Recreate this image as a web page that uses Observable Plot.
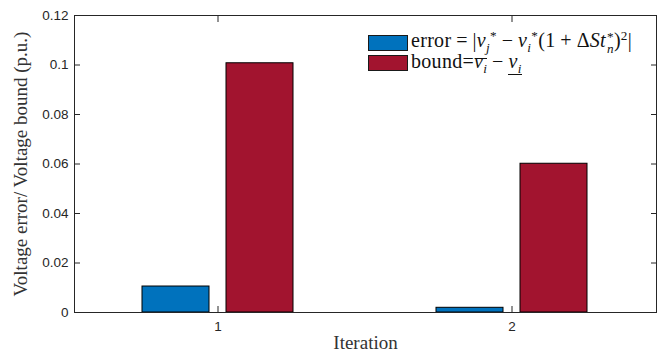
<!DOCTYPE html>
<html>
<head>
<meta charset="utf-8">
<script src="https://cdn.jsdelivr.net/npm/d3@7"></script>
<script src="https://cdn.jsdelivr.net/npm/@observablehq/plot@0.6"></script>
<style>
  body { margin: 0; background: #fff; }
  #wrap { position: relative; width: 670px; height: 356px; }
  #wrap svg { display: block; }
  .leg { position: absolute; left: 368px; top: 32.5px; font-family: "Liberation Serif", "Times New Roman", serif; font-size: 20px; letter-spacing: 0.3px; color: #111; }
  .row { display: flex; align-items: center; height: 20.5px; white-space: nowrap; }
  .sw { display: inline-block; flex: none; width: 38px; height: 14px; border: 1px solid #1a1a1a; margin-right: 3px; }
  .tx { line-height: 0.8; position: relative; }
  .row + .row .tx { top: -2.5px; }
  .tx sub, .tx sup { font-size: 0.66em; line-height: 0; }
  .ss { display: inline-flex; flex-direction: column; vertical-align: middle; font-size: 0.66em; line-height: 0.9; margin-left: 1px; }
  .op { margin: 0 0.24em; }
  .ol, .ul { display: inline-block; position: relative; line-height: 0.8; }
  .ol::before { content: ""; position: absolute; left: 1px; right: 0; top: 0.28em; border-top: 1px solid #111; }
  .ul::after { content: ""; position: absolute; left: 0; right: 0; bottom: -0.32em; border-top: 1px solid #111; }
</style>
</head>
<body>
<div id="wrap"></div>
<script>
// ---- data ----
const iterations = ["1", "2"];
const seriesNames = ["error", "bound"];
const errorValues = [0.0105, 0.0019];
const boundValues = [0.1007, 0.0601];
const yTicks = [0, 0.02, 0.04, 0.06, 0.08, 0.1, 0.12];
const yTickLabels = ["0", "0.02", "0.04", "0.06", "0.08", "0.1", "0.12"];
const seriesColors = ["#0072BD", "#A2142F"];
const legendLabels = [
  'error<span class="op">=</span>|<i>v</i><sub><i>j</i></sub><sup>*</sup><span class="op">−</span><i>v</i><sub><i>i</i></sub><sup>*</sup>(1<span class="op">+</span>Δ<i>St</i><span class="ss"><span>*</span><span><i>n</i></span></span>)<sup>2</sup>|',
  'bound=<span class="ol"><i>v</i><sub><i>i</i></sub></span><span class="op">−</span><span class="ul"><i>v</i><sub><i>i</i></sub></span>'
];
const xLabel = "Iteration";
const yLabel = "Voltage error/ Voltage bound (p.u.)";

const errorRows = iterations.map((it, i) => ({iteration: it, series: seriesNames[0], value: errorValues[i]}));
const boundRows = iterations.map((it, i) => ({iteration: it, series: seriesNames[1], value: boundValues[i]}));

const axisColor = "#262626";
const sans = "'Liberation Sans', Arial, Helvetica, sans-serif";
const serif = "'Liberation Serif', 'Times New Roman', serif";
const blank = () => "";

const chart = Plot.plot({
  width: 670,
  height: 356,
  marginLeft: 74,
  marginRight: 14,
  marginTop: 15,
  marginBottom: 44,
  style: { fontFamily: sans, fontSize: "13px", color: axisColor, background: "#fff" },
  x: { type: "band", domain: iterations, paddingInner: 0.4847, paddingOuter: 0.2288, axis: null },
  y: { domain: [0, 0.12], axis: null },
  marks: [
    Plot.barY(errorRows, { x: "iteration", y: "value", fill: seriesColors[0], stroke: "#000", strokeWidth: 1, insetRight: 84 }),
    Plot.barY(boundRows, { x: "iteration", y: "value", fill: seriesColors[1], stroke: "#000", strokeWidth: 1, insetLeft: 84 }),
    Plot.frame({ stroke: axisColor, strokeWidth: 1 }),
    // inward ticks on all four sides
    Plot.axisY(yTicks, { anchor: "left", tickSize: 6, dx: 6, stroke: axisColor, tickFormat: blank, label: null }),
    Plot.axisY(yTicks, { anchor: "right", tickSize: 6, dx: -6, stroke: axisColor, tickFormat: blank, label: null }),
    Plot.axisX(iterations, { anchor: "bottom", tickSize: 6, dy: -6, stroke: axisColor, tickFormat: blank, label: null }),
    Plot.axisX(iterations, { anchor: "top", tickSize: 6, dy: 6, stroke: axisColor, tickFormat: blank, label: null }),
    // tick labels
    Plot.axisY(yTicks, { anchor: "left", tickSize: 0, tickPadding: 6, fill: axisColor, fontSize: 13.5, fontFamily: sans, tickFormat: (d) => yTickLabels[yTicks.indexOf(d)], label: null }),
    Plot.axisX(iterations, { anchor: "bottom", tickSize: 0, tickPadding: 9, fill: axisColor, fontSize: 13.5, fontFamily: sans, label: null }),
    // axis titles
    Plot.text([yLabel], { frameAnchor: "left", text: (d) => d, rotate: -90, textAnchor: "middle", dx: -54, fontFamily: serif, fontSize: 19, fill: "#333" }),
    Plot.text([xLabel], { frameAnchor: "bottom", text: (d) => d, textAnchor: "middle", dy: 36, fontFamily: serif, fontSize: 19, fill: "#333" })
  ]
});

const wrap = document.getElementById("wrap");
wrap.appendChild(chart);

const leg = document.createElement("div");
leg.className = "leg";
seriesNames.forEach((s, i) => {
  const row = document.createElement("div");
  row.className = "row";
  row.innerHTML = `<span class="sw" style="background:${seriesColors[i]}"></span><span class="tx">${legendLabels[i]}</span>`;
  leg.appendChild(row);
});
wrap.appendChild(leg);
</script>
</body>
</html>
